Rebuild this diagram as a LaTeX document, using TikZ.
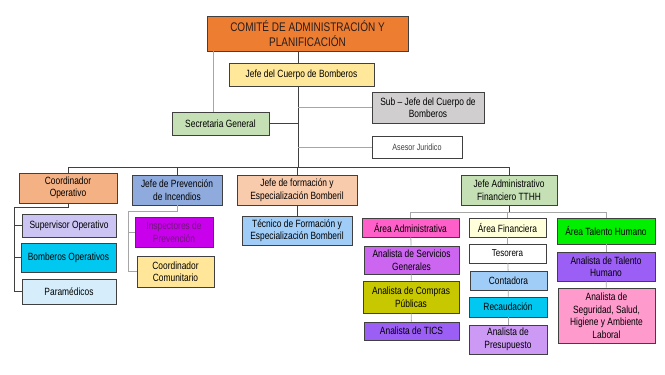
\documentclass[tikz,border=0pt]{standalone}
\usepackage{fontspec}
\setmainfont[FakeStretch=0.8]{Liberation Sans}
\usetikzlibrary{shadows}
\definecolor{edge}{HTML}{404040}
\definecolor{lgray}{HTML}{A6A6A6}
\tikzset{
  box/.style={draw=edge, line width=0.8pt, align=center, inner sep=1pt,
    font=\fontsize{10.5}{12.5}\selectfont,
    drop shadow={shadow xshift=1pt, shadow yshift=-1pt, fill=black!35, opacity=0.6}},
  conn/.style={draw=edge, line width=0.8pt},
  lconn/.style={draw=lgray, line width=0.8pt},
}
\begin{document}
\begin{tikzpicture}[x=1pt,y=-1pt]
\useasboundingbox (0,0) rectangle (665,375);
% level 0/1
\node[box, fill={rgb,255:red,237;green,125;blue,49}, minimum width=201pt, minimum height=35pt, font=\fontsize{12.5}{14.5}\selectfont, text={rgb,255:red,40;green,30;blue,30}] (top) at (307.5,33.5) {COMITÉ DE ADMINISTRACIÓN Y\\PLANIFICACIÓN};
\node[box, fill={rgb,255:red,255;green,232;blue,153}, minimum width=145pt, minimum height=23pt] (jefe) at (301.5,74.5) {Jefe del Cuerpo de Bomberos};
\node[box, fill={rgb,255:red,197;green,224;blue,180}, minimum width=97pt, minimum height=23pt] (sec) at (220.5,123.5) {Secretaria General};
\node[box, fill={rgb,255:red,208;green,206;blue,206}, minimum width=112pt, minimum height=31pt] (sub) at (428,107.5) {Sub – Jefe del Cuerpo de\\Bomberos};
\node[box, fill=white, minimum width=90pt, minimum height=22pt, font=\fontsize{9}{10}\selectfont, text=edge] (ase) at (417,147) {Asesor Juridico};
% level 2
\node[box, fill={rgb,255:red,244;green,177;blue,131}, minimum width=98pt, minimum height=30pt] (co) at (68,188) {Coordinador\\Operativo};
\node[box, fill={rgb,255:red,143;green,170;blue,220}, minimum width=90pt, minimum height=30pt] (pr) at (177,190) {Jefe de Prevención\\de Incendios};
\node[box, fill={rgb,255:red,248;green,203;blue,173}, minimum width=120pt, minimum height=30pt] (fo) at (297,190) {Jefe de formación y\\Especialización Bomberil};
\node[box, fill={rgb,255:red,197;green,224;blue,180}, minimum width=96pt, minimum height=30pt] (ad) at (509,190) {Jefe Administrativo\\Financiero TTHH};
% coordinador children
\node[box, fill={rgb,255:red,204;green,196;blue,242}, minimum width=94pt, minimum height=23pt] (su) at (69,225.5) {Supervisor Operativo};
\node[box, fill={rgb,255:red,0;green,200;blue,240}, minimum width=95pt, minimum height=29pt] (bo) at (68.5,257.5) {Bomberos Operativos};
\node[box, fill={rgb,255:red,214;green,238;blue,252}, minimum width=94pt, minimum height=25pt] (pa) at (69,291.5) {Paramédicos};
% prevencion children
\node[box, fill={rgb,255:red,200;green,0;blue,235}, text={rgb,255:red,115;green,20;blue,125}, minimum width=78pt, minimum height=30pt] (ins) at (174,232) {Inspectores de\\Prevención};
\node[box, fill={rgb,255:red,255;green,230;blue,153}, minimum width=77pt, minimum height=31pt] (cc) at (175.5,271.5) {Coordinador\\Comunitario};
% formacion child
\node[box, fill={rgb,255:red,160;green,204;blue,248}, minimum width=110pt, minimum height=29pt] (tec) at (297,230.5) {Técnico de Formación y\\Especialización Bomberil};
% admin children
\node[box, fill={rgb,255:red,255;green,95;blue,200}, minimum width=97pt, minimum height=19pt] (aa) at (410.5,227.5) {Área Administrativa};
\node[box, fill={rgb,255:red,255;green,255;blue,217}, minimum width=77pt, minimum height=19pt] (af) at (507.5,227.5) {Área Financiera};
\node[box, fill={rgb,255:red,0;green,240;blue,0}, minimum width=98pt, minimum height=26pt] (th) at (606,231) {Área Talento Humano};
\node[box, fill={rgb,255:red,204;green,102;blue,240}, minimum width=95pt, minimum height=28pt] (sg) at (411.5,260) {Analista de Servicios\\Generales};
\node[box, fill={rgb,255:red,200;green,200;blue,0}, minimum width=96pt, minimum height=32pt] (cp) at (411,297) {Analista de Compras\\Públicas};
\node[box, fill={rgb,255:red,155;green,95;blue,245}, minimum width=95pt, minimum height=18pt] (ti) at (411.5,331) {Analista de TICS};
\node[box, fill=white, minimum width=77pt, minimum height=19pt, font=\fontsize{10}{11}\selectfont] (tes) at (507.5,253.5) {Tesorera};
\node[box, fill={rgb,255:red,160;green,204;blue,248}, minimum width=77pt, minimum height=19pt] (con) at (508.5,280.5) {Contadora};
\node[box, fill={rgb,255:red,0;green,200;blue,240}, minimum width=78pt, minimum height=20pt] (rec) at (508,307) {Recaudación};
\node[box, fill={rgb,255:red,204;green,153;blue,245}, minimum width=78pt, minimum height=29pt] (pp) at (508,339.5) {Analista de\\Presupuesto};
\node[box, fill={rgb,255:red,155;green,95;blue,245}, minimum width=98pt, minimum height=29pt] (ath) at (606,266.5) {Analista de Talento\\Humano};
\node[box, fill={rgb,255:red,255;green,154;blue,205}, minimum width=97pt, minimum height=55pt] (seg) at (606.5,315.5) {Analista de\\Seguridad, Salud,\\Higiene y Ambiente\\Laboral};
% coordinates
\coordinate (tr) at (298,0);
\coordinate (sl) at (213,0);
\coordinate (bus) at (0,167);
\coordinate (coL) at (14,207);
\coordinate (prL) at (128,211);
\coordinate (adB) at (0,212);
% connectors
\draw[conn] (top.south -| tr) -- (jefe.north -| tr);
\draw[conn] (jefe.south -| tr) -- (bus -| tr);
\draw[lconn] (top.south -| sl) -- (sec.north -| sl);
\draw[conn] (sec.east) -- (sec.east -| tr);
\draw[lconn] (sub.west) -- (sub.west -| tr);
\draw[lconn] (ase.west) -- (ase.west -| tr);
\draw[conn] (co.north |- bus) -- (ad.north |- bus);
\draw[conn] (co.north |- bus) -- (co.north);
\draw[conn] (pr.north |- bus) -- (pr.north);
\draw[conn] (fo.north |- bus) -- (fo.north);
\draw[conn] (ad.north |- bus) -- (ad.north);
\draw[conn] (co.south) |- (coL) -- (coL |- pa.west) -- (pa.west);
\draw[conn] (coL |- su.west) -- (su.west);
\draw[conn] (coL |- bo.west) -- (bo.west);
\draw[lconn] (pr.south) |- (prL) -- (prL |- cc.west) -- (cc.west);
\draw[lconn] (prL |- ins.west) -- (ins.west);
\draw[conn] (fo.south) -- (tec.north);
\draw[conn] (ad.south) -- (ad.south |- adB);
\draw[lconn] (aa.north |- adB) -- (th.north |- adB);
\draw[lconn] (aa.north |- adB) -- (aa.north);
\draw[lconn] (af.north |- adB) -- (af.north);
\draw[lconn] (th.north |- adB) -- (th.north);
\draw[lconn] (aa) -- (sg);
\draw[lconn] (sg) -- (cp);
\draw[lconn] (cp) -- (ti);
\draw[lconn] (af) -- (tes);
\draw[lconn] (tes) -- (con);
\draw[lconn] (con) -- (rec);
\draw[lconn] (rec) -- (pp);
\draw[lconn] (th) -- (ath);
\draw[lconn] (ath) -- (seg);
\end{tikzpicture}
\end{document}
